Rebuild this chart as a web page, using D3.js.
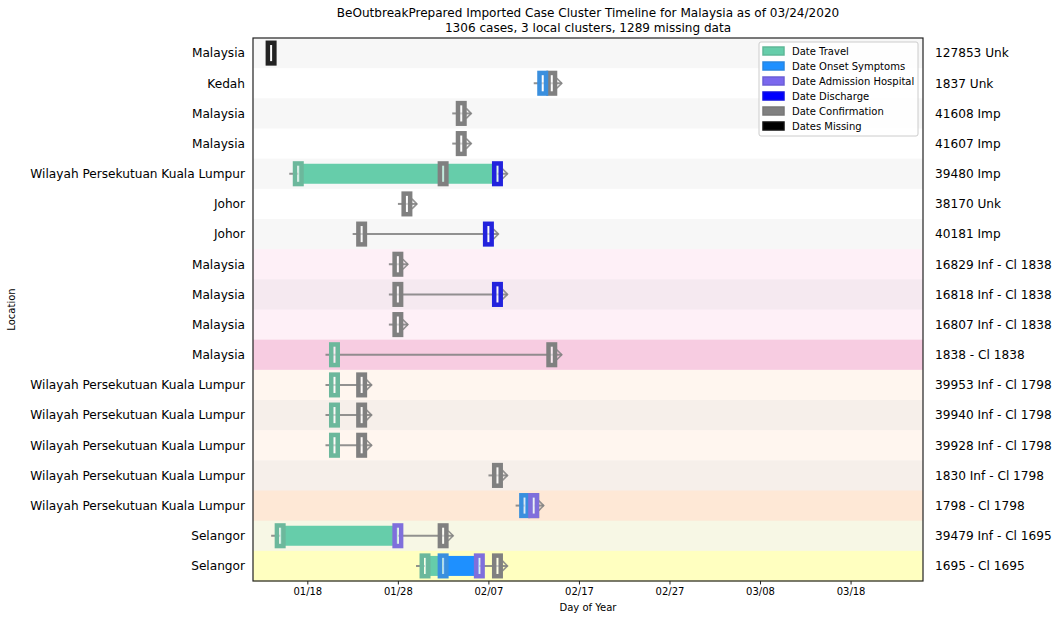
<!DOCTYPE html>
<html><head><meta charset="utf-8">
<script src="https://cdn.jsdelivr.net/npm/d3@7"></script>
<style>body{margin:0;background:#fff;} text{font-family:"DejaVu Sans",sans-serif;}</style>
</head><body><svg id="c" width="1061" height="620"></svg>
<script>
const locations = ["Malaysia","Kedah","Malaysia","Malaysia","Wilayah Persekutuan Kuala Lumpur","Johor","Johor","Malaysia","Malaysia","Malaysia","Malaysia","Wilayah Persekutuan Kuala Lumpur","Wilayah Persekutuan Kuala Lumpur","Wilayah Persekutuan Kuala Lumpur","Wilayah Persekutuan Kuala Lumpur","Wilayah Persekutuan Kuala Lumpur","Selangor","Selangor"];
const caseLabels = ["127853 Unk","1837 Unk","41608 Imp","41607 Imp","39480 Imp","38170 Unk","40181 Imp","16829 Inf - Cl 1838","16818 Inf - Cl 1838","16807 Inf - Cl 1838","1838 - Cl 1838","39953 Inf - Cl 1798","39940 Inf - Cl 1798","39928 Inf - Cl 1798","1830 Inf - Cl 1798","1798 - Cl 1798","39479 Inf - Cl 1695","1695 - Cl 1695"];
const rowColors = ["#f7f7f7","#ffffff","#f7f7f7","#ffffff","#f7f7f7","#ffffff","#f7f7f7","#fef0f7","#f5e9f0","#fef0f7","#f7cce1","#fff6ef","#f6efea","#fff6ef","#f6efea","#fee8d6","#f7f7e5","#ffffc0"];
const travel      = [null,null,null,null,"2020-01-17",null,null,null,null,null,"2020-01-21","2020-01-21","2020-01-21","2020-01-21",null,null,"2020-01-15","2020-01-31"];
const travelEnd   = [null,null,null,null,"2020-02-08",null,null,null,null,null,null,null,null,null,null,null,"2020-01-28","2020-02-02"];
const onset       = [null,"2020-02-13",null,null,null,null,null,null,null,null,null,null,null,null,null,"2020-02-11",null,"2020-02-02"];
const onsetEnd    = [null,null,null,null,null,null,null,null,null,null,null,null,null,null,null,"2020-02-12",null,"2020-02-06"];
const admission   = [null,null,null,null,null,null,null,null,null,null,null,null,null,null,null,"2020-02-12","2020-01-28","2020-02-06"];
const discharge   = [null,null,null,null,"2020-02-08",null,"2020-02-07",null,"2020-02-08",null,null,null,null,null,null,null,null,null];
const confirmation= [null,"2020-02-14","2020-02-04","2020-02-04","2020-02-02","2020-01-29","2020-01-24","2020-01-28","2020-01-28","2020-01-28","2020-02-14","2020-01-24","2020-01-24","2020-01-24","2020-02-08","2020-02-12","2020-02-02","2020-02-08"];
const missing     = ["2020-01-14",null,null,null,null,null,null,null,null,null,null,null,null,null,null,null,null,null];
const xDomain = ["2020-01-12","2020-03-26"];
const tickDates = ["2020-01-18","2020-01-28","2020-02-07","2020-02-17","2020-02-27","2020-03-08","2020-03-18"];
const legendLabels = ["Date Travel","Date Onset Symptoms","Date Admission Hospital","Date Discharge","Date Confirmation","Dates Missing"];
const legendFills = ["#66cdaa","#1e90ff","#7b68ee","#0000ff","#808080","#000000"];
const legendEdges = ["#5fb898","#2a86e0","#6c5fd6","#1010e0","#777777","#111111"];
const titleLines = ["BeOutbreakPrepared Imported Case Cluster Timeline for Malaysia as of 03/24/2020","1306 cases, 3 local clusters, 1289 missing data"];

const L=253,R=923,T=38,B=581;
const svg=d3.select("#c");
const parse=d3.utcParse("%Y-%m-%d");
const x=d3.scaleUtc().domain(xDomain.map(parse)).range([L,R]);
const idx=d3.range(locations.length);
const y=d3.scaleBand().domain(idx).range([T,B]).padding(0);
const cy=i=>y(i)+y.bandwidth()/2;

// row backgrounds
svg.append("g").selectAll("rect").data(idx).join("rect")
  .attr("x",L).attr("y",i=>y(i)).attr("width",R-L).attr("height",y.bandwidth()+0.5)
  .attr("fill",i=>rowColors[i]);

// lines
const g=svg.append("g");
idx.forEach(i=>{
  const ds=[travel[i],onset[i],admission[i],discharge[i],confirmation[i]].filter(d=>d).map(parse);
  if(!ds.length) return;
  const x0=x(d3.min(ds))-9, x1=x(d3.max(ds))+10;
  g.append("line").attr("x1",x0).attr("x2",x1).attr("y1",cy(i)).attr("y2",cy(i))
    .attr("stroke","#808080").attr("stroke-width",2).attr("opacity",0.85);
  g.append("path").attr("d",`M${x1-5},${cy(i)-5}L${x1},${cy(i)}L${x1-5},${cy(i)+5}`)
    .attr("fill","none").attr("stroke","#808080").attr("stroke-width",1.6).attr("opacity",0.85);
});
// bars
function bars(start,end,color){
  idx.forEach(i=>{
    if(!start[i]||!end[i]) return;
    svg.append("rect").attr("x",x(parse(start[i]))).attr("y",cy(i)-10)
      .attr("width",x(parse(end[i]))-x(parse(start[i]))).attr("height",20)
      .attr("fill",color).attr("opacity",1);
  });
}
bars(travel,travelEnd,"#66cdaa");
bars(onset,onsetEnd,"#1e90ff");
// markers
function markers(arr,color){
  idx.forEach(i=>{
    if(!arr[i]) return;
    svg.append("rect").attr("x",x(parse(arr[i]))-3.25).attr("y",cy(i)-10.3)
      .attr("width",6.5).attr("height",20.6)
      .attr("fill","#ffffff").attr("fill-opacity",0.6)
      .attr("stroke",color).attr("stroke-width",4.5);
  });
}
markers(confirmation,"#808080");
markers(travel,"#6cb89c");
markers(onset,"#3a8fde");
markers(admission,"#7f6fdc");
markers(discharge,"#2222dd");
markers(missing,"#222222");

// frame
svg.append("rect").attr("x",L).attr("y",T).attr("width",R-L).attr("height",B-T)
  .attr("fill","none").attr("stroke","#222").attr("stroke-width",1.2);

// x axis
const xa=svg.append("g").attr("transform",`translate(0,${B})`)
  .call(d3.axisBottom(x).tickValues(tickDates.map(parse)).tickFormat(d3.utcFormat("%m/%d")).tickSizeOuter(0).tickSize(3.5).tickPadding(3));
xa.select(".domain").remove();
xa.selectAll("text").attr("font-size",10).attr("fill","#000").attr("font-family","DejaVu Sans");
xa.selectAll("line").attr("stroke","#222");

// y labels left
svg.append("g").selectAll("text").data(idx).join("text")
  .attr("x",L-8).attr("y",cy).attr("dy","0.35em").attr("text-anchor","end")
  .attr("font-size",12.15).attr("fill","#000").text(i=>locations[i]);
// right labels
svg.append("g").selectAll("text").data(idx).join("text")
  .attr("x",R+12).attr("y",cy).attr("dy","0.35em").attr("text-anchor","start")
  .attr("font-size",12.15).attr("fill","#000").text(i=>caseLabels[i]);

// axis titles
svg.append("text").attr("x",(L+R)/2).attr("y",611).attr("text-anchor","middle").attr("font-size",10).text("Day of Year");
svg.append("text").attr("transform",`translate(15,${(T+B)/2}) rotate(-90)`).attr("text-anchor","middle").attr("font-size",10).text("Location");
// title
titleLines.forEach((t,k)=>svg.append("text").attr("x",(L+R)/2).attr("y",17+k*15).attr("text-anchor","middle").attr("font-size",12.05).text(t));

// legend
const lg=svg.append("g");
lg.append("rect").attr("x",759).attr("y",42).attr("width",159).attr("height",94).attr("rx",2)
  .attr("fill","#fff").attr("fill-opacity",0.85).attr("stroke","#cccccc");
legendLabels.forEach((t,k)=>{
  const yy=51+k*15;
  lg.append("rect").attr("x",763).attr("y",yy-4).attr("width",21).attr("height",8)
    .attr("fill",legendFills[k]).attr("stroke",legendEdges[k]).attr("stroke-width",1.5);
  lg.append("text").attr("x",792).attr("y",yy).attr("dy","0.35em").attr("font-size",10).text(t);
});
</script></body></html>
